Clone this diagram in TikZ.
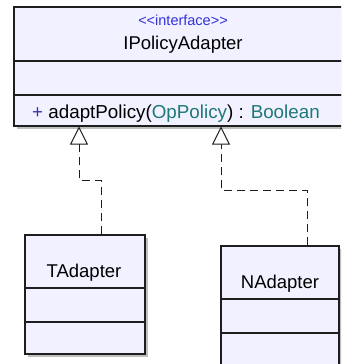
\documentclass[tikz,border=0pt]{standalone}
\usepackage{fontspec}
\setmainfont{Liberation Sans}
\usetikzlibrary{arrows.meta,shadows}

\begin{document}
\begin{tikzpicture}[x=1pt, y=-1pt]
  \definecolor{classfill}{HTML}{F1F1FF}
  \definecolor{classline}{HTML}{1E1E1E}
  \definecolor{stereoblue}{HTML}{3232DC}
  \definecolor{visblue}{HTML}{3636A8}
  \definecolor{typeteal}{HTML}{1F7878}
  \tikzstyle{compartment}=[rectangle, draw=classline, fill=classfill, line width=1.3pt, inner sep=0pt,
    drop shadow={shadow xshift=2.5pt, shadow yshift=-2.5pt, fill=black!25, opacity=1}]
  \tikzstyle{classname}=[font=\fontsize{18.5}{22}\selectfont, anchor=base, inner sep=0pt]
  \tikzstyle{realize}=[draw=classline, line width=1pt, dash pattern=on 8pt off 5pt,
    -{Triangle[open, length=18pt, width=18pt, fill=white]}]

  \useasboundingbox (0,0) rectangle (341,364);
  \clip (0,0) rectangle (341,364);

  % interface
  \node[compartment, minimum width=340pt, minimum height=54pt] (ipahead) at (184,34) {};
  \node[compartment, minimum width=340pt, minimum height=34pt] (ipaattr) at (184,78) {};
  \node[compartment, minimum width=340pt, minimum height=31pt] (ipaop) at (184,110.5) {};
  \node[classname, font=\fontsize{14.5}{17}\selectfont, text=stereoblue] (ipastereo) at (183,25.5)
    {<\kern0pt<interface>\kern0pt>};
  \node[classname] (ipaname) at (183,49) {IPolicyAdapter};
  \node[classname, anchor=base west, font=\fontsize{18.8}{22}\selectfont] (ipaadapt) at (32,118)
    {\textcolor{visblue}{+} adaptPolicy(\textcolor{typeteal}{OpPolicy}) : \textcolor{typeteal}{Boolean}};
  \coordinate (ttip) at (79,126.5);
  \coordinate (ntip) at (221,126.5);

  % TAdapter
  \node[compartment, minimum width=120pt, minimum height=53pt] (tadhead) at (85,261.5) {};
  \node[compartment, minimum width=120pt, minimum height=34pt] (tadattr) at (85,305) {};
  \node[compartment, minimum width=120pt, minimum height=32pt] (tadop) at (85,338) {};
  \node[classname] (tadname) at (84,277) {TAdapter};

  % NAdapter
  \node[compartment, minimum width=118pt, minimum height=53pt] (nadhead) at (280,272.5) {};
  \node[compartment, minimum width=118pt, minimum height=34pt] (nadattr) at (280,316) {};
  \node[compartment, minimum width=118pt, minimum height=40pt] (nadop) at (280,353) {};
  \node[classname] (nadname) at (280,288) {NAdapter};

  % realizations
  \draw[realize] ([xshift=16pt]tadhead.north) -- ++(0,-54) -| (ttip);
  \draw[realize] ([xshift=27pt]nadhead.north) -- ++(0,-55) -| (ntip);
\end{tikzpicture}
\end{document}
